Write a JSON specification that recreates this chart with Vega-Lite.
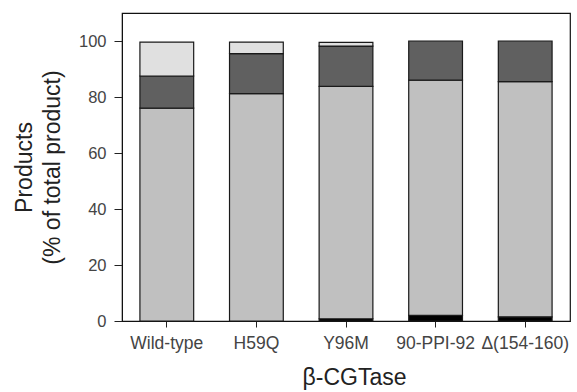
{
  "$schema": "https://vega.github.io/schema/vega-lite/v6.json",
  "autosize": "none",
  "width": 448,
  "height": 308,
  "padding": {"left": 122, "top": 13, "right": 7, "bottom": 71},
  "background": "white",
  "config": {
    "view": {"stroke": "#111", "strokeWidth": 1.2},
    "font": "Liberation Sans"
  },
  "data": {
    "values": [
      {"enzyme": "Wild-type", "product": "p1", "rank": 1, "value": 76.0},
      {"enzyme": "Wild-type", "product": "p2", "rank": 2, "value": 11.5},
      {"enzyme": "Wild-type", "product": "p3", "rank": 3, "value": 12.1},
      {"enzyme": "H59Q", "product": "p1", "rank": 1, "value": 81.2},
      {"enzyme": "H59Q", "product": "p2", "rank": 2, "value": 14.3},
      {"enzyme": "H59Q", "product": "p3", "rank": 3, "value": 4.1},
      {"enzyme": "Y96M", "product": "p0", "rank": 0, "value": 0.8},
      {"enzyme": "Y96M", "product": "p1", "rank": 1, "value": 83.0},
      {"enzyme": "Y96M", "product": "p2", "rank": 2, "value": 14.4},
      {"enzyme": "Y96M", "product": "p3", "rank": 3, "value": 1.3},
      {"enzyme": "90-PPI-92", "product": "p0", "rank": 0, "value": 2.0},
      {"enzyme": "90-PPI-92", "product": "p1", "rank": 1, "value": 84.0},
      {"enzyme": "90-PPI-92", "product": "p2", "rank": 2, "value": 14.0},
      {"enzyme": "Δ(154-160)", "product": "p0", "rank": 0, "value": 1.5},
      {"enzyme": "Δ(154-160)", "product": "p1", "rank": 1, "value": 84.0},
      {"enzyme": "Δ(154-160)", "product": "p2", "rank": 2, "value": 14.5}
    ]
  },
  "mark": {"type": "bar", "stroke": "#1a1a1a", "strokeWidth": 1.2},
  "encoding": {
    "x": {
      "field": "enzyme",
      "type": "nominal",
      "sort": ["Wild-type", "H59Q", "Y96M", "90-PPI-92", "Δ(154-160)"],
      "scale": {"paddingInner": 0.4, "paddingOuter": 0.2},
      "axis": {
        "title": "β-CGTase",
        "labelAngle": 0,
        "labelFontSize": 17.5,
        "labelColor": "#444",
        "labelPadding": 7,
        "tickSize": 6,
        "tickColor": "#222",
        "domainColor": "#111",
        "titleFontSize": 23,
        "titleFontWeight": "normal",
        "titleColor": "#222",
        "titlePadding": 15,
        "titleX": 232
      }
    },
    "y": {
      "field": "value",
      "type": "quantitative",
      "stack": "zero",
      "scale": {"domain": [0, 110], "nice": false},
      "axis": {
        "title": ["Products", "(% of total product)"],
        "values": [0, 20, 40, 60, 80, 100],
        "grid": false,
        "labelFontSize": 16.5,
        "labelColor": "#444",
        "labelPadding": 8,
        "tickSize": 8,
        "tickColor": "#222",
        "domainColor": "#111",
        "titleFontSize": 23,
        "titleFontWeight": "normal",
        "titleColor": "#222",
        "titleLineHeight": 28,
        "titlePadding": 14
      }
    },
    "order": {"field": "rank", "type": "quantitative"},
    "color": {
      "field": "product",
      "type": "nominal",
      "scale": {"domain": ["p0", "p1", "p2", "p3"], "range": ["#000000", "#c0c0c0", "#606060", "#e0e0e0"]},
      "legend": null
    }
  }
}
